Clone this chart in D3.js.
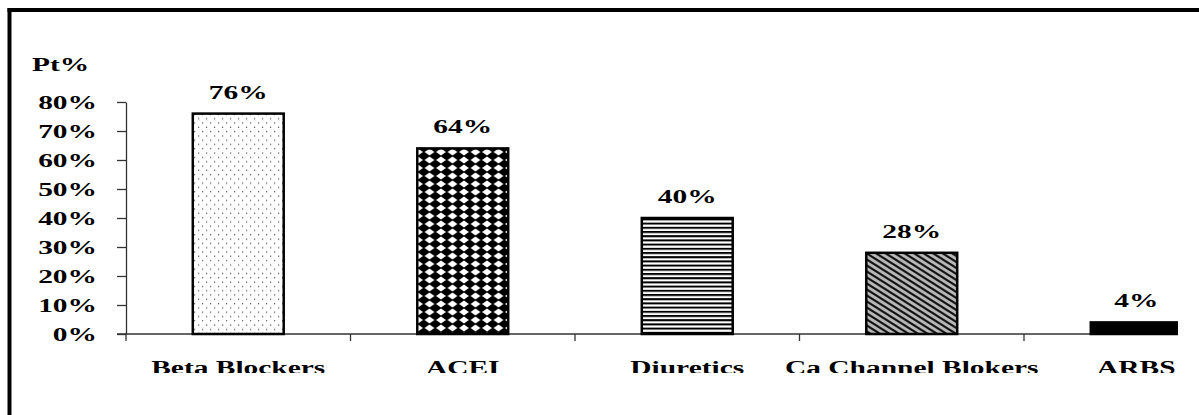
<!DOCTYPE html>
<html><head><meta charset="utf-8">
<script src="https://cdn.jsdelivr.net/npm/d3@7"></script>
<style>html,body{margin:0;padding:0;background:#fff;} svg{display:block;}</style>
</head><body><svg id="chart" width="1199" height="415"></svg>
<script>
// ---- data ----
const categories = ["Beta Blockers", "ACEI", "Diuretics", "Ca Channel Blokers", "ARBS"];
const values = [0.76, 0.64, 0.40, 0.28, 0.04];
const valueLabels = ["76%", "64%", "40%", "28%", "4%"];
const yTicks = [0, 0.1, 0.2, 0.3, 0.4, 0.5, 0.6, 0.7, 0.8];
const yTitle = "Pt%";
const fills = ["url(#pDots)", "url(#pDiamond)", "url(#pHLines)", "url(#pDiag)", "#000"];

// ---- layout ----
const W = 1199, H = 415;
const SX = 1.55; // horizontal stretch of text
const font = "'Liberation Serif','Times New Roman',serif";
const svg = d3.select("#chart");
svg.append("rect").attr("width", W).attr("height", H).attr("fill", "#fff");
const defs = svg.append("defs");

// patterns
const pd = defs.append("pattern").attr("id", "pDots").attr("patternUnits", "userSpaceOnUse")
  .attr("width", 8).attr("height", 8.6);
pd.append("rect").attr("width", 8).attr("height", 8.6).attr("fill", "#fff");
pd.append("rect").attr("x", 2).attr("y", 2).attr("width", 1.2).attr("height", 1.2).attr("fill", "#555");
pd.append("rect").attr("x", 6).attr("y", 6.3).attr("width", 1.2).attr("height", 1.2).attr("fill", "#555");

const dw = 11.5, dh = 8, ex = 0.6;
const pm = defs.append("pattern").attr("id", "pDiamond").attr("patternUnits", "userSpaceOnUse")
  .attr("width", dw).attr("height", dh).attr("x", 418).attr("y", 0);
pm.append("rect").attr("width", dw).attr("height", dh).attr("fill", "#fff");
pm.append("polygon").attr("points", `${dw/2},${-ex} ${dw+ex*1.4},${dh/2} ${dw/2},${dh+ex} ${-ex*1.4},${dh/2}`).attr("fill", "#000");

const ph = defs.append("pattern").attr("id", "pHLines").attr("patternUnits", "userSpaceOnUse")
  .attr("width", 10).attr("height", 4.2);
ph.append("rect").attr("width", 10).attr("height", 4.2).attr("fill", "#fff");
ph.append("rect").attr("y", 0).attr("width", 10).attr("height", 2).attr("fill", "#000");

const gw = 9.5, gh = 6, t = 1.3;
const pg = defs.append("pattern").attr("id", "pDiag").attr("patternUnits", "userSpaceOnUse")
  .attr("width", gw).attr("height", gh);
pg.append("rect").attr("width", gw).attr("height", gh).attr("fill", "#b8b8b8");
[-gh, 0, gh].forEach(o => {
  pg.append("polygon").attr("points",
    `0,${o - t} ${gw},${o + gh - t} ${gw},${o + gh + t} 0,${o + t}`).attr("fill", "#111");
});

defs.append("clipPath").attr("id", "plotClip").append("rect")
  .attr("x", 0).attr("y", 0).attr("width", 1178).attr("height", H);
defs.append("clipPath").attr("id", "labelClip").append("rect")
  .attr("x", 0).attr("y", 0).attr("width", W).attr("height", 373);

// scales
const x = d3.scaleBand().domain(categories).range([126, 126 + 5 * 224.5])
  .paddingInner(0.595).paddingOuter(0.2975);
const y = d3.scaleLinear().domain([0, 0.8]).range([334, 102]);

// border
svg.append("rect").attr("x", 7.5).attr("y", 8).attr("width", W).attr("height", 4).attr("fill", "#000");
svg.append("rect").attr("x", 7.5).attr("y", 8).attr("width", 4).attr("height", H).attr("fill", "#000");

const plot = svg.append("g").attr("clip-path", "url(#plotClip)");

// x axis line + boundary ticks
const axisColor = "#333";
plot.append("line").attr("x1", 117).attr("x2", 1250).attr("y1", y(0)).attr("y2", y(0))
  .attr("stroke", axisColor).attr("stroke-width", 1.3);
const gap = (x.step() - x.bandwidth()) / 2;
const bounds = categories.map(c => x(c) - gap).concat([x(categories[categories.length - 1]) + x.bandwidth() + gap]);
plot.selectAll("line.xt").data(bounds).join("line").attr("class", "xt")
  .attr("x1", d => d).attr("x2", d => d).attr("y1", y(0)).attr("y2", y(0) + 7)
  .attr("stroke", axisColor).attr("stroke-width", 1.3);

// y axis
const yAxis = d3.axisLeft(y).tickValues(yTicks).tickFormat(d3.format(".0%"))
  .tickSize(9).tickSizeOuter(0);
const gy = svg.append("g").attr("transform", "translate(126,0)").call(yAxis);
gy.select(".domain").attr("stroke", axisColor).attr("stroke-width", 1.3);
gy.selectAll(".tick line").attr("stroke", axisColor).attr("stroke-width", 1.3);
gy.selectAll(".tick text")
  .attr("x", 0).attr("dy", "0.32em")
  .attr("transform", `translate(-29,0) scale(${SX},1)`)
  .attr("font-family", font).attr("font-size", 19).attr("font-weight", "bold")
  .attr("fill", "#000").attr("text-anchor", "end");

// y title
svg.append("text").attr("transform", `translate(32,71) scale(${SX},1)`)
  .attr("font-family", font).attr("font-size", 19).attr("font-weight", "bold")
  .attr("fill", "#000").text(yTitle);

// bars
plot.selectAll("rect.bar").data(categories).join("rect").attr("class", "bar")
  .attr("x", c => x(c)).attr("y", (c, i) => y(values[i]))
  .attr("width", x.bandwidth()).attr("height", (c, i) => y(0) - y(values[i]))
  .attr("fill", (c, i) => fills[i]).attr("stroke", "#000").attr("stroke-width", 2.5);

// value labels
svg.selectAll("text.val").data(categories).join("text").attr("class", "val")
  .attr("transform", (c, i) => `translate(${x(c) + x.bandwidth() / 2},${y(values[i]) - 15}) scale(${SX},1)`)
  .attr("text-anchor", "middle")
  .attr("font-family", font).attr("font-size", 19).attr("font-weight", "bold")
  .attr("fill", "#000").text((c, i) => valueLabels[i]);

// category labels
svg.append("g").attr("clip-path", "url(#labelClip)")
  .selectAll("text.cat").data(categories).join("text").attr("class", "cat")
  .attr("transform", c => `translate(${x(c) + x.bandwidth() / 2},374) scale(${SX},1)`)
  .attr("text-anchor", "middle")
  .attr("font-family", font).attr("font-size", 19).attr("font-weight", "bold")
  .attr("fill", "#000").text(c => c);
</script>
</body></html>
